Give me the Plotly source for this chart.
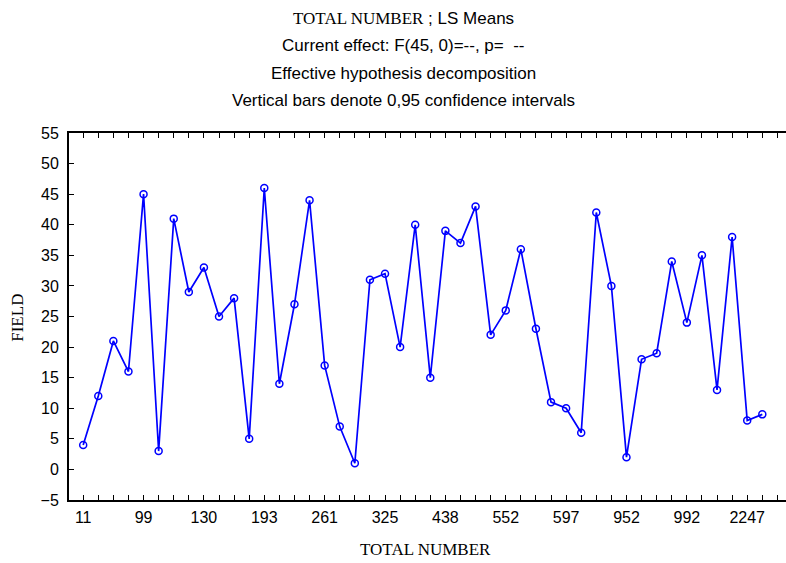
import plotly.graph_objects as go

# Values (ranks), one per TOTAL NUMBER level (46 levels)
field_values = [4, 12, 21, 16, 45, 3, 41, 29, 33, 25, 28, 5, 46, 14, 27, 44,
                17, 7, 1, 31, 32, 20, 40, 15, 39, 37, 43, 22, 26, 36, 23, 11,
                10, 6, 42, 30, 2, 18, 19, 34, 24, 35, 13, 38, 8, 9]
level_index = list(range(len(field_values)))

# Visible category tick labels (every 4th level)
tick_labels = ["11", "99", "130", "193", "261", "325", "438", "552", "597",
               "952", "992", "2247"]
tick_label_index = [0, 4, 8, 12, 16, 20, 24, 28, 32, 36, 40, 44]

y_ticks = [-5, 0, 5, 10, 15, 20, 25, 30, 35, 40, 45, 50, 55]

all_ticks = list(range(0, 47))
all_text = [""] * len(all_ticks)
for i, lab in zip(tick_label_index, tick_labels):
    all_text[i] = lab

SANS = "Liberation Sans, Arial, sans-serif"
SERIF = "Liberation Serif, Times New Roman, serif"

fig = go.Figure()
fig.add_trace(go.Scatter(
    x=level_index, y=field_values, mode="lines+markers",
    line=dict(color="#0000ff", width=1.7),
    marker=dict(symbol="circle-open", size=7, color="#0000ff",
                line=dict(width=1.5, color="#0000ff")),
    showlegend=False, hoverinfo="skip",
))

fig.update_layout(
    width=786, height=563,
    margin=dict(l=69, r=0, t=133, b=63),
    paper_bgcolor="white", plot_bgcolor="white",
    font=dict(family=SANS, size=17, color="black"),
    xaxis=dict(range=[-0.94, 46.57], tickmode="array", tickvals=all_ticks,
               ticktext=all_text, ticks="inside", ticklen=5, tickwidth=1,
               tickcolor="black", showline=True, linecolor="black",
               linewidth=2, mirror="allticks", showgrid=False,
               zeroline=False, ticklabelstandoff=2,
               tickfont=dict(family=SANS, size=16)),
    yaxis=dict(range=[-5, 55], tickmode="array", tickvals=y_ticks,
               ticks="inside", ticklen=5, tickwidth=1, tickcolor="black",
               showline=True, linecolor="black", linewidth=2,
               showgrid=False, zeroline=False, ticklabelstandoff=5,
               tickfont=dict(family=SANS, size=16)),
)

title_lines = [
    ('<span style="font-family:Liberation Serif">TOTAL NUMBER</span> ; LS Means', 19),
    ("Current effect: F(45, 0)=--, p=  --", 46),
    ("Effective hypothesis decomposition", 74),
    ("Vertical bars denote 0,95 confidence intervals", 101),
]
for txt, py in title_lines:
    fig.add_annotation(text=txt, xref="paper", yref="paper",
                       x=(403 - 69) / 717, y=(500 - py) / 366.5,
                       xanchor="center", yanchor="middle", showarrow=False,
                       font=dict(family=SANS, size=17, color="black"))

fig.add_annotation(text="TOTAL NUMBER", xref="paper", yref="paper",
                   x=(425 - 69) / 717, y=(500 - 549) / 366.5,
                   xanchor="center", yanchor="middle", showarrow=False,
                   font=dict(family=SERIF, size=17, color="black"))
fig.add_annotation(text="FIELD", xref="paper", yref="paper",
                   x=(18 - 69) / 717, y=(500 - 318) / 366.5, textangle=-90,
                   xanchor="center", yanchor="middle", showarrow=False,
                   font=dict(family=SERIF, size=17, color="black"))

fig.write_html("out.html", config={"displayModeBar": False},
               post_script="document.body.style.margin='0';")
